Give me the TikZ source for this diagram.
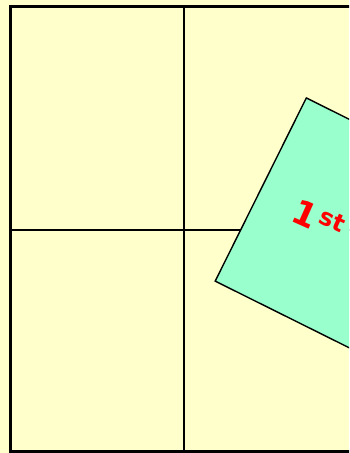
\documentclass[tikz,border=0pt]{standalone}
\usepackage{fontspec}
\newfontfamily\cardfont{DejaVu Sans}
\definecolor{paper}{HTML}{FFFFCC}
\definecolor{mint}{HTML}{99FFCC}
\begin{document}
\begin{tikzpicture}[x=1pt, y=-1pt,
		g/.style = {draw=black, line width=2.4pt},
		card/.style = {rectangle, draw=black, fill=mint, line width=1.4pt, minimum width=230, minimum height=204.6, rotate=-26.45, anchor=north west},
		lbl/.style = {text=red, font=\cardfont\bfseries\fontsize{34}{38}\selectfont, rotate=-24, anchor=base west, inner sep=0},
		]
		\useasboundingbox (0,0) rectangle (349,453);
		\clip (0,0) rectangle (349,453);
		\fill[paper] (0,0) rectangle (349,453);
		
		%Grid
		\coordinate (tl) at (10.5, 6.5);
		\coordinate (br) at (357.5, 451.5);
		\coordinate (mt) at (184, 6.5);
		\coordinate (mb) at (184, 451.5);
		\coordinate (ml) at (10.5, 230);
		\coordinate (mr) at (357.5, 230);
		\draw[g]	(tl)	rectangle	(br);
		\draw[g]	(mt)	--	(mb);
		\draw[g]	(ml)	--	(mr);
		
		%Nodes
		\node[card]	(c)	at	(306, 97)	{};
		\node[lbl]	(t)	at	(289, 220)	{1\kern3pt\textsuperscript{st}};
	\end{tikzpicture}
\end{document}
